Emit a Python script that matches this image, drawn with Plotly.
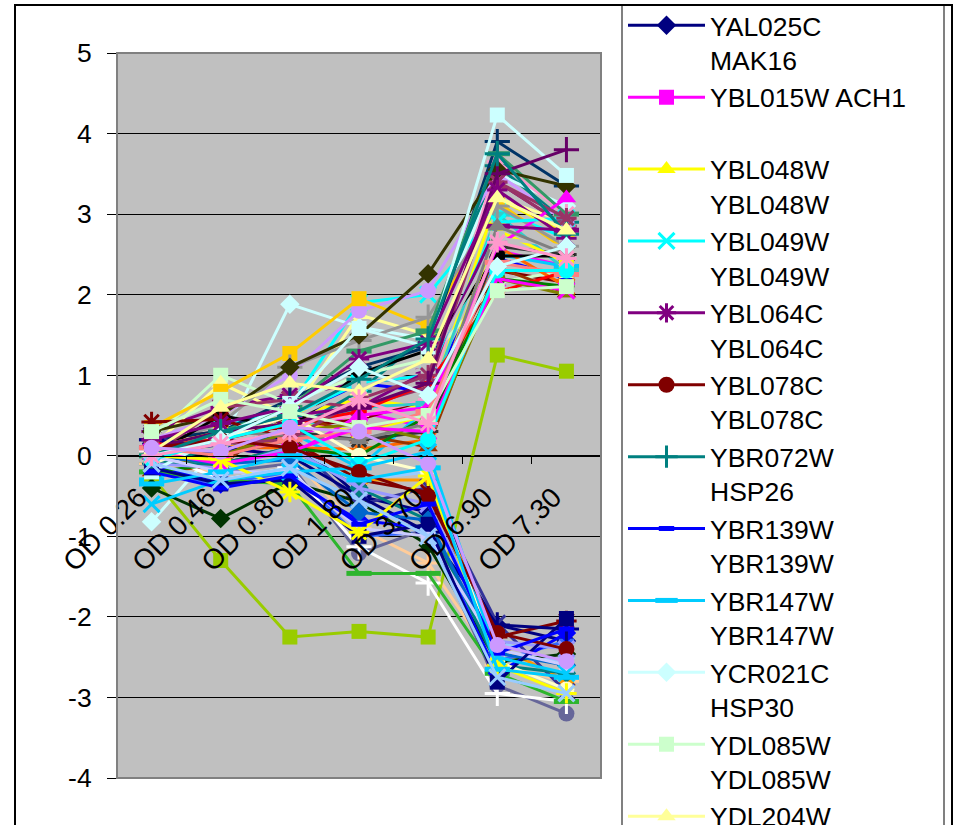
import plotly.graph_objects as go

categories = ["OD 0.26", "OD 0.46", "OD 0.80", "OD 1.80", "OD 3.70", "OD 6.90", "OD 7.30"]

y_ticks = [-4, -3, -2, -1, 0, 1, 2, 3, 4, 5]
y_tick_labels = ["-4", "-3", "-2", "-1", "0", "1", "2", "3", "4", "5"]

names = [
    "YAL025C<br>MAK16", "YBL015W ACH1<br>\u00a0", "YBL048W<br>YBL048W", "YBL049W<br>YBL049W",
    "YBL064C<br>YBL064C", "YBL078C<br>YBL078C", "YBR072W<br>HSP26", "YBR139W<br>YBR139W",
    "YBR147W<br>YBR147W", "YCR021C<br>HSP30", "YDL085W<br>YDL085W", "YDL204W<br>YDL204W",
]

colors = [
    "#000080", "#FF00FF", "#FFFF00", "#00FFFF", "#800080", "#800000", "#008080", "#0000FF",
    "#00CCFF", "#CCFFFF", "#CCFFCC", "#FFFF99", "#99CCFF", "#FF99CC", "#CC99FF", "#FFCC99",
    "#3366FF", "#33CCCC", "#99CC00", "#FFCC00", "#FF9900", "#FF6600", "#666699", "#969696",
    "#003366", "#339966", "#003300", "#333300", "#993300", "#993366", "#333399", "#333333",
    "#000000", "#FFFFFF", "#FF0000", "#2DB52D", "#0000FF", "#FFFF00", "#FF00FF", "#00FFFF",
    "#800000", "#008000", "#000080", "#808000", "#800080", "#008080", "#C0C0C0", "#808080",
    "#9999FF", "#993366", "#FFFFCC", "#CCFFFF", "#660066", "#FF8080", "#0066CC", "#CCCCFF",
    "#000080", "#FF00FF", "#FFFF00", "#00FFFF", "#00CCFF", "#800080", "#800000", "#008080",
    "#0000FF", "#00CCFF", "#CCFFFF", "#CCFFCC", "#FFFF99", "#99CCFF", "#FF99CC", "#CC99FF",
]

markers = [
    "diamond", "square", "triangle", "x", "star", "circle", "plus", "dash", "longdash",
    "diamond", "square", "triangle", "x", "star", "circle", "plus", "dash", "longdash",
    "square", "square", "triangle", "x", "circle", "plus", "plus", "longdash", "diamond",
    "diamond", "triangle", "x", "x", "star", "circle", "plus", "dash", "longdash",
    "diamond", "square", "triangle", "x", "star", "circle", "plus", "dash", "longdash",
    "diamond", "square", "triangle", "x", "star", "circle", "square", "plus", "longdash",
    "diamond", "square", "square", "x", "star", "circle", "x", "star", "circle",
    "plus", "dash", "longdash", "diamond", "square", "triangle", "x", "star", "circle",
]

s01 = [0.15, 0.10, 0.25, -0.50, -0.70, -2.10, -2.30]
s02 = [0.10, 0.05, 0.20, 0.55, 0.35, 2.55, 2.35]
s03 = [0.05, 0.30, 0.50, 0.70, 0.60, 3.20, 2.75]
s04 = [0.00, 0.35, 0.60, 1.90, 2.00, 3.05, 2.70]
s05 = [0.30, 0.60, 0.75, 0.90, 1.00, 3.40, 2.85]
s06 = [0.20, 0.30, 0.35, 0.45, 0.70, 2.30, 2.15]
s07 = [-0.10, 0.10, 0.30, 0.80, 1.50, 3.60, 2.90]
s08 = [0.10, 0.20, 0.40, 0.90, 0.80, 2.45, 2.20]
s09 = [-0.30, 0.00, 0.30, -0.15, 0.60, 2.50, 2.35]
s10 = [-0.82, 0.15, 1.88, 1.60, 1.45, 3.50, 3.10]
s11 = [0.20, 1.00, 0.65, 1.00, 1.20, 2.15, 2.30]
s12 = [0.10, 0.90, 0.50, 1.75, 1.50, 3.20, 2.90]
s13 = [0.00, -0.20, 0.10, -0.30, -0.20, -2.30, -2.60]
s14 = [0.10, 0.20, 0.40, 0.50, 0.70, 3.65, 3.00]
s15 = [0.20, 0.50, 1.00, 1.80, 2.05, 3.50, 2.90]
s16 = [-0.10, -0.20, 0.00, -0.90, -1.33, -2.60, -2.80]
s17 = [-0.20, -0.35, -0.20, -1.00, -0.95, -2.55, -2.30]
s18 = [0.00, 0.15, 0.30, 0.60, 0.65, 3.00, 2.30]
s19 = [-0.25, -1.30, -2.25, -2.18, -2.25, 1.25, 1.05]
s20 = [0.35, 0.80, 1.27, 1.95, 1.60, 3.15, 2.55]
s21 = [0.00, 0.10, 0.20, -0.30, -0.30, -2.35, -2.80]
s22 = [0.05, 0.10, 0.10, 0.08, 0.20, 2.60, 2.10]
s23 = [0.05, -0.20, -0.10, -1.21, -0.90, -2.85, -3.20]
s24 = [0.10, 0.40, 1.10, 1.43, 1.72, 3.10, 2.60]
s25 = [0.20, 0.30, 0.70, 1.10, 1.35, 3.90, 3.35]
s26 = [0.00, 0.30, 0.60, 1.30, 1.55, 3.75, 3.00]
s27 = [-0.40, -0.78, -0.33, -0.57, -1.11, -2.56, -2.46]
s28 = [0.30, 0.50, 1.10, 1.50, 2.26, 3.55, 3.35]
s29 = [-0.20, -0.12, 0.52, 0.26, 0.11, 2.34, 2.02]
s30 = [0.00, 0.60, 0.70, 0.60, 0.85, 3.40, 2.85]
s31 = [0.25, 0.00, 0.20, -0.61, -0.39, -2.08, -2.93]
s32 = [0.10, 0.00, 0.30, 0.20, 0.30, 2.60, 2.50]
s33 = [0.00, 0.50, 0.34, 1.02, 1.31, 2.48, 2.48]
s34 = [0.07, -0.30, -0.15, -1.13, -1.58, -2.95, -3.05]
s35 = [0.15, 0.20, 0.39, 0.55, 0.90, 2.03, 2.29]
s36 = [-0.20, -0.30, -0.35, -1.46, -1.46, -2.70, -3.05]
s37 = [-0.10, -0.35, -0.30, -0.80, -0.90, -2.70, -2.20]
s38 = [0.10, 0.30, 0.40, 0.30, 0.50, 2.80, 2.40]
s39 = [0.00, 0.10, 0.00, 0.50, 0.60, 2.60, 3.20]
s40 = [0.00, 0.20, 0.50, 0.90, 1.00, 2.90, 2.95]
s41 = [0.42, 0.45, 0.20, -0.30, -0.45, -2.25, -2.05]
s42 = [-0.20, -0.10, 0.10, 0.00, 0.50, 2.20, 2.10]
s43 = [0.20, 0.10, 0.00, -0.50, -0.95, -2.10, -2.15]
s44 = [-0.15, 0.00, 0.30, 0.40, 0.20, 2.20, 2.00]
s45 = [0.10, 0.20, 0.50, 0.60, 1.05, 2.85, 2.80]
s46 = [-0.10, -0.10, 0.10, -0.40, -0.80, -2.60, -2.70]
s47 = [0.00, 0.10, 0.45, 0.85, 1.10, 2.70, 2.60]
s48 = [0.00, 0.30, 0.25, 0.20, 0.40, 2.85, 2.50]
s49 = [-0.10, -0.15, 0.10, -0.40, -0.60, -2.30, -2.40]
s50 = [0.10, 0.15, 0.20, 0.70, 1.00, 3.40, 2.95]
s51 = [-0.10, 0.20, 0.50, 0.00, -0.20, -2.55, -2.90]
s52 = [-0.20, 0.25, 0.65, 1.58, 1.35, 4.23, 3.48]
s53 = [0.10, 0.30, 0.40, 0.60, 0.90, 3.50, 3.80]
s54 = [0.10, 0.00, 0.20, 0.30, 0.55, 2.40, 2.25]
s55 = [0.00, -0.10, -0.05, -0.70, -0.80, -2.45, -2.60]
s56 = [0.00, -0.20, -0.20, -0.90, -1.00, -2.40, -2.60]
s57 = [-0.15, -0.35, -0.30, -1.00, -0.85, -2.81, -2.02]
s58 = [0.05, -0.10, 0.05, 0.35, 0.30, 2.20, 2.05]
s59 = [0.00, -0.05, -0.45, -0.95, -0.25, -2.60, -2.95]
s60 = [-0.05, 0.20, 0.40, -0.10, 0.20, 2.30, 2.30]
s61 = [-0.60, -0.30, -0.20, -0.15, 0.05, -2.50, -2.70]
s62 = [0.20, 0.40, 0.60, 1.20, 1.40, 3.30, 2.70]
s63 = [0.10, 0.20, 0.10, -0.20, -0.50, -2.20, -2.40]
s64 = [0.00, 0.30, 0.50, 0.95, 1.45, 3.75, 2.75]
s65 = [-0.20, -0.40, -0.25, -0.85, -0.60, -2.45, -2.15]
s66 = [-0.35, -0.20, 0.00, -0.30, -0.15, -2.65, -2.75]
s67 = [0.00, 0.20, 0.60, 1.10, 0.75, 2.35, 2.60]
s68 = [0.30, 0.70, 0.55, 0.35, 0.50, 2.05, 2.10]
s69 = [0.05, 0.60, 0.90, 0.80, 1.20, 3.20, 2.80]
s70 = [-0.10, -0.30, -0.15, -0.55, -1.00, -2.75, -2.95]
s71 = [0.00, 0.15, 0.30, 0.70, 0.40, 2.65, 2.45]
s72 = [0.10, 0.05, 0.35, 0.30, -0.10, -2.35, -2.55]

series_values = [s01, s02, s03, s04, s05, s06, s07, s08, s09, s10, s11, s12, s13, s14, s15, s16,
                 s17, s18, s19, s20, s21, s22, s23, s24, s25, s26, s27, s28, s29, s30, s31, s32,
                 s33, s34, s35, s36, s37, s38, s39, s40, s41, s42, s43, s44, s45, s46, s47, s48,
                 s49, s50, s51, s52, s53, s54, s55, s56, s57, s58, s59, s60, s61, s62, s63, s64,
                 s65, s66, s67, s68, s69, s70, s71, s72]

FONT = "Arial, 'Liberation Sans', sans-serif"
FS = 26.5

marker_style = {
    "diamond": dict(symbol="diamond", size=15, line=dict(width=0)),
    "square": dict(symbol="square", size=15, line=dict(width=0)),
    "triangle": dict(symbol="triangle-up", size=17, line=dict(width=0)),
    "circle": dict(symbol="circle", size=16, line=dict(width=0)),
    "x": dict(symbol="x-thin-open", size=16, line=dict(width=3)),
    "star": dict(symbol="asterisk-open", size=17, line=dict(width=3)),
    "plus": dict(symbol="cross-thin-open", size=18, line=dict(width=3)),
    "dash": dict(symbol="line-ew-open", size=11, line=dict(width=5)),
    "longdash": dict(symbol="line-ew-open", size=18, line=dict(width=5)),
}

fig = go.Figure()
for i, vals in enumerate(series_values):
    col = colors[i]
    ms = dict(marker_style[markers[i]])
    ms["color"] = col
    ms["line"] = dict(ms["line"], color=col)
    name = names[i] if i < len(names) else "Series %d" % (i + 1)
    fig.add_trace(go.Scatter(
        x=categories, y=vals, mode="lines+markers", name=name,
        line=dict(color=col, width=3), marker=ms,
        showlegend=i < 13,
    ))

W, H = 958, 825
L, R, T, B = 117, 601, 53, 778
pw, ph = R - L, B - T

def px_x(x):
    return (x - L) / pw

def px_y(y):
    return (B - y) / ph

fig.update_layout(
    width=W, height=H,
    margin=dict(l=L, r=W - R, t=T, b=H - B, autoexpand=False),
    paper_bgcolor="white",
    plot_bgcolor="#C0C0C0",
    font=dict(family=FONT, size=FS, color="black"),
    xaxis=dict(
        type="category", categoryorder="array", categoryarray=categories,
        range=[-0.5, 6.5], anchor="free", position=4 / 9,
        showline=True, linecolor="black", linewidth=1,
        ticks="outside", tickson="boundaries", ticklen=7, tickcolor="black",
        tickangle=-45, showgrid=False, zeroline=False,
        tickfont=dict(family=FONT, size=28),
        ticklabelstandoff=13, ticklabelshift=-13,
    ),
    yaxis=dict(
        range=[-4, 5], tickvals=y_ticks, ticktext=y_tick_labels,
        showline=True, linecolor="black", linewidth=1,
        ticks="outside", ticklen=9, tickcolor="black",
        showgrid=True, gridcolor="black", gridwidth=1, zeroline=False,
        tickfont=dict(family=FONT, size=FS), ticklabelstandoff=10,
    ),
    legend=dict(
        x=px_x(623), xanchor="left", y=px_y(1.5), yanchor="top",
        bgcolor="rgba(0,0,0,0)", borderwidth=0,
        font=dict(family=FONT, size=FS), valign="top",
        itemwidth=77, tracegroupgap=0, maxheight=3000,
    ),
    shapes=[
        dict(type="rect", xref="paper", yref="paper", x0=0, x1=1, y0=0, y1=1,
             line=dict(color="#808080", width=2), layer="above"),
        dict(type="rect", xref="paper", yref="paper", x0=px_x(622), x1=px_x(944),
             y0=px_y(900), y1=px_y(5), line=dict(color="#808080", width=2)),
        dict(type="rect", xref="paper", yref="paper", x0=px_x(15), x1=px_x(952),
             y0=px_y(900), y1=px_y(5), line=dict(color="black", width=2)),
    ],
)

fig.write_html("out.html")
